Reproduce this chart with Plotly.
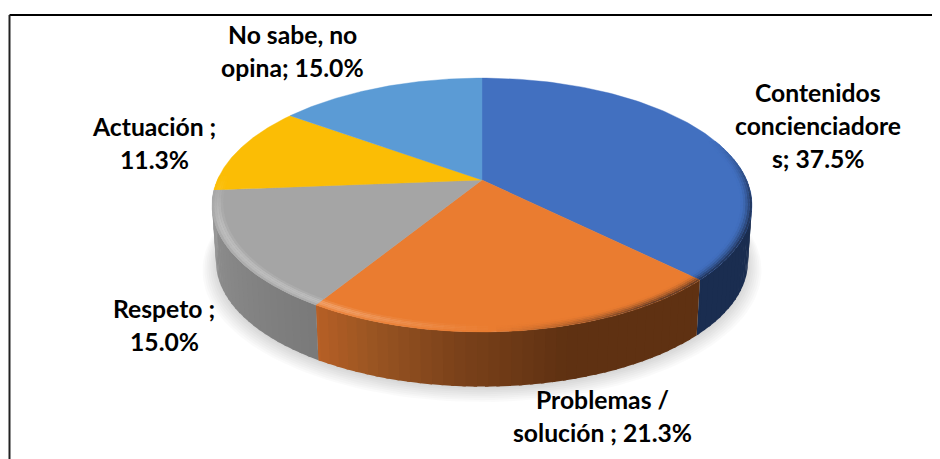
"""
Opinion split drawn as a tilted 3D pie. Plotly's Pie is flat only, so the wedges
are projected from the values and filled as scatter polygons.
"""
import numpy as np
import plotly.graph_objects as go

CATEGORIES = ["Contenidos concienciadores", "Problemas / solución", "Respeto", "Actuación", "No sabe, no opina"]
VALUES = [37.5, 21.3, 15.0, 11.3, 15.0]

TOP_COLORS = ["#4270c0", "#ea7c30", "#a5a5a5", "#fbbd05", "#5b9bd5"]

# label lines as they wrap in the picture, with slice index for the value
LABEL_LINES = [
    ["Contenidos", "concienciadore", "s; {v}"],
    ["Problemas /", "solución ; {v}"],
    ["Respeto ;", "{v}"],
    ["Actuación ;", "{v}"],
    ["No sabe, no", "opina; {v}"],
]
LABEL_POS = [(818, 92.5), (602, 399), (164, 308), (154, 126), (292, 34)]
LINE_GAP = 33

# projection of the pie disc into the page (pixels)
CX, CY = 482, 180
A, B, K = 264.7, 122.0, 0.197
DEPTH, BASE_SCALE = 57, 0.985

FONT = dict(family="Lato", size=24.7, color="#000000", weight="bold")


def project(theta, r=1.0):
    """theta in radians, clockwise from 12 o'clock."""
    u, v = r * np.sin(theta), -r * np.cos(theta)
    w = 1 - K * v
    return CX + A * u / w, CY + B * v / w


def project_base(theta, r=1.0):
    x, y = project(theta, r)
    return CX + (x - CX) * BASE_SCALE, CY + (y - CY) * BASE_SCALE + DEPTH


def rgb(c):
    c = c.lstrip("#")
    return np.array([int(c[i:i + 2], 16) for i in (0, 2, 4)], dtype=float)


def mix(c1, c2, t):
    m = rgb(c1) * (1 - t) + rgb(c2) * t
    return "#%02x%02x%02x" % tuple(int(round(x)) for x in m)


def poly(fig, x, y, color, line=0.6):
    fig.add_trace(go.Scatter(
        x=x, y=y, mode="lines", fill="toself", fillcolor=color,
        line=dict(color=color, width=line), hoverinfo="skip", showlegend=False,
    ))


# side wall colour along the rim, deg -> colour
SIDE_STOPS = [
    (0, [(90, "#1a2d50"), (135, "#1a2d50")]),
    (1, [(135, "#5f3112"), (165, "#5f3112"), (185, "#7c421a"), (200, "#9a5522"), (212, "#b86026")]),
    (2, [(212, "#7a7a7a"), (235, "#858585"), (255, "#909090"), (272, "#a0a0a0")]),
]


def side_color(stops, deg):
    for (a, c1), (b, c2) in zip(stops, stops[1:]):
        if a <= deg <= b:
            return mix(c1, c2, (deg - a) / max(b - a, 1e-6))
    return stops[-1][1] if deg > stops[-1][0] else stops[0][1]


fractions = np.array(VALUES) / sum(VALUES)
edges = np.concatenate([[0], np.cumsum(fractions)]) * 360

fig = go.Figure()

# soft shadow under the pie
ring = np.radians(np.arange(0, 361, 2))
for s in range(8):
    x, y = project_base(ring, 1.0 + 0.007 * s)
    fig.add_trace(go.Scatter(
        x=x, y=y + 2 + s * 0.6, mode="lines", fill="toself",
        fillcolor="rgba(0,0,0,0.018)", line=dict(width=0),
        hoverinfo="skip", showlegend=False,
    ))

# side wall, narrow strips so the shading can run along the rim
for i, stops in SIDE_STOPS:
    start, end = edges[i], edges[i + 1]
    lo = max(start, 80)
    hi = min(end, 285)
    steps = np.arange(lo, hi, 2.0)
    # left to right overlap hides the seams between strips
    for d in steps:
        d2 = min(d + 2.6, hi)
        t = np.radians([d, d2])
        xt, yt = project(t)
        xb, yb = project_base(t)
        poly(fig, [xt[0], xt[1], xb[1], xb[0], xt[0]], [yt[0], yt[1], yb[1], yb[0], yt[0]],
             side_color(stops, d + 1), line=0)

# top face
for i, c in enumerate(TOP_COLORS):
    t = np.radians(np.linspace(edges[i], edges[i + 1], 120))
    x, y = project(t)
    poly(fig, np.r_[CX, x, CX], np.r_[CY, y, CY], c, line=0.4)

# rounded rim: lighter on the left, darker towards the right
RINGS = [0.992, 0.984, 0.976, 0.968, 0.96]
for i, c in enumerate(TOP_COLORS):
    for d in np.arange(edges[i], edges[i + 1], 2.0):
        d2 = min(d + 2.6, edges[i + 1])
        dm = (d + d2) / 2
        if dm < 70 or dm > 272:
            continue
        for j, (r1, r2) in enumerate(zip([1.0] + RINGS, RINGS)):
            pos = (j + 0.5) / len(RINGS)
            if dm < 178:
                # dark side of the pie
                strength = np.clip((178 - dm) / 30, 0.0, 1.0) * np.clip((dm - 70) / 30, 0, 1)
                col = mix(c, "#10131f", 0.7 * (1 - pos) ** 1.6 * strength)
            else:
                strength = np.clip((dm - 178) / 30, 0, 1) * np.clip((272 - dm) / 22, 0, 1)
                col = mix(c, "#ffffff", 0.27 * np.sin(np.pi * pos) * strength)
            if col == c:
                continue
            t = np.radians([d, d2])
            xo, yo = project(t, r1)
            xi, yi = project(t, r2)
            poly(fig, [xo[0], xo[1], xi[1], xi[0], xo[0]], [yo[0], yo[1], yi[1], yi[0], yo[0]], col, line=0)

# chart frame: only the top and left edges are in view
fig.add_shape(type="line", x0=9.5, x1=940, y0=15, y1=15, line=dict(color="#000000", width=2))
fig.add_shape(type="line", x0=9.5, x1=9.5, y0=15, y1=459, line=dict(color="#222222", width=2))

for i, lines in enumerate(LABEL_LINES):
    px, py = LABEL_POS[i]
    for n, text in enumerate(lines):
        fig.add_annotation(
            x=px, y=py + n * LINE_GAP, text=text.format(v=f"{VALUES[i]:.1f}%"),
            showarrow=False, font=FONT, xanchor="center", yanchor="middle",
        )

# the page body keeps its 8px margin, so the figure starts at page pixel (8, 8)
fig.update_layout(
    width=932, height=451, autosize=False,
    margin=dict(l=0, r=0, t=0, b=0),
    paper_bgcolor="#ffffff", plot_bgcolor="#ffffff",
    xaxis=dict(range=[8, 940], visible=False, fixedrange=True),
    yaxis=dict(range=[459, 8], visible=False, fixedrange=True),
    showlegend=False,
)
fig.write_html("out.html", config=dict(displayModeBar=False))
